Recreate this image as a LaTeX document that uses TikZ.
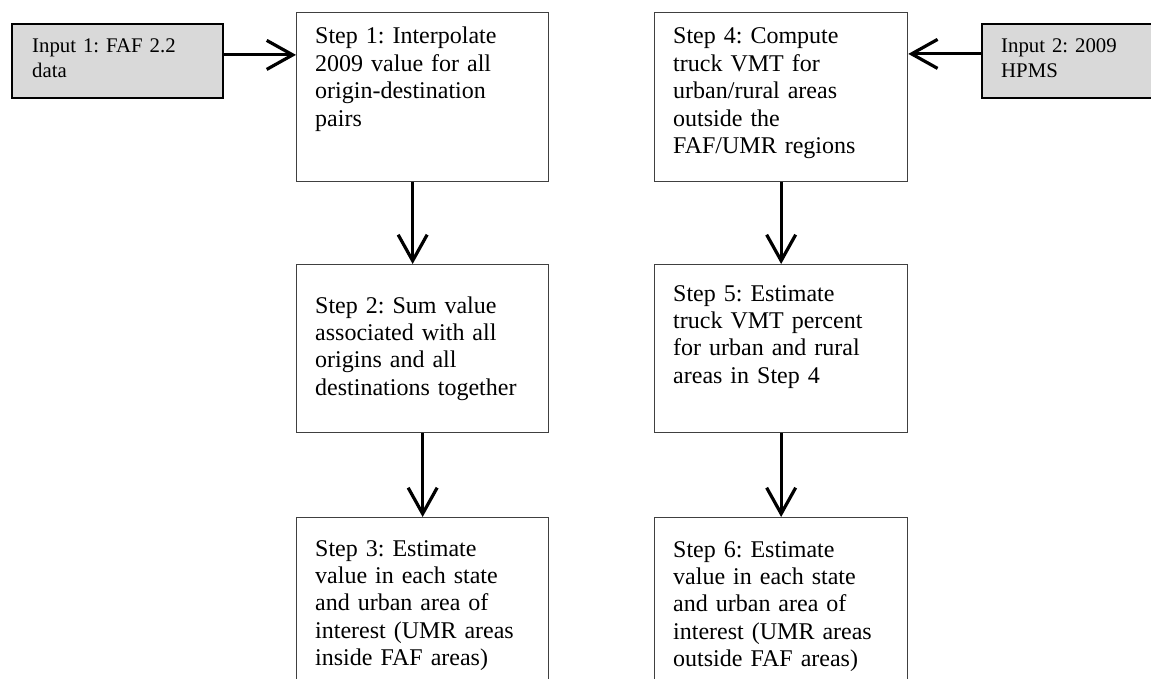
\documentclass[tikz,border=0pt]{standalone}
\usepackage{fontspec}
\setmainfont{Liberation Serif}
\usetikzlibrary{arrows.meta}
\definecolor{inputfill}{HTML}{D9D9D9}
\definecolor{boxline}{HTML}{404040}
\tikzset{
  stepbox/.style={draw=boxline, line width=1.3pt, fill=white, rectangle, inner sep=0pt, anchor=north west},
  inbox/.style={draw=black, line width=1.8pt, fill=inputfill, rectangle, inner sep=0pt, anchor=north west},
  steptext/.style={anchor=base west, inner sep=0pt, text width=245pt, align=left, font=\frenchspacing\fontsize{24}{27.4}\selectfont},
  intext/.style={anchor=base west, inner sep=0pt, text width=185pt, align=left, font=\frenchspacing\fontsize{20.8}{24.8}\selectfont},
  flow/.style={draw=black, line width=3.2pt, -{Straight Barb[length=26pt, width=29pt]}}
}
\begin{document}
\frenchspacing
\begin{tikzpicture}[x=1pt, y=-1pt]
\useasboundingbox (0,0) rectangle (1151,679);
\begin{scope}
\clip (0,0) rectangle (1151,679);
% input boxes
\node[inbox, minimum width=211pt, minimum height=74pt] (in1) at (11,23) {};
\node[inbox, minimum width=190pt, minimum height=74pt] (in2) at (981,23) {};
% step boxes
\node[stepbox, minimum width=252pt, minimum height=169pt] (s1) at (296,12) {};
\node[stepbox, minimum width=252pt, minimum height=168pt] (s2) at (296,264) {};
\node[stepbox, minimum width=252pt, minimum height=180pt] (s3) at (296,517) {};
\node[stepbox, minimum width=253pt, minimum height=169pt] (s4) at (654,12) {};
\node[stepbox, minimum width=253pt, minimum height=168pt] (s5) at (654,264) {};
\node[stepbox, minimum width=253pt, minimum height=180pt] (s6) at (654,517) {};
\end{scope}
% texts
\node[intext] (tin1) at (32,53) {Input 1: FAF 2.2\\data};
\node[intext, text width=140pt] (tin2) at (1001,53) {Input 2: 2009\\HPMS};
\node[steptext] (t1) at (315,44) {Step 1: Interpolate\\2009 value for all\\origin-destination\\pairs};
\node[steptext] (t2) at (315,313) {Step 2: Sum value\\associated with all\\origins and all\\destinations together};
\node[steptext] (t3) at (315,556) {Step 3: Estimate\\value in each state\\and urban area of\\interest (UMR areas\\inside FAF areas)};
\node[steptext] (t4) at (673,44) {Step 4: Compute\\truck VMT for\\urban/rural areas\\outside the\\FAF/UMR regions};
\node[steptext] (t5) at (673,301) {Step 5: Estimate\\truck VMT percent\\for urban and rural\\areas in Step 4};
\node[steptext] (t6) at (673,557) {Step 6: Estimate\\value in each state\\and urban area of\\interest (UMR areas\\outside FAF areas)};
% connectors
\draw[flow] ([yshift=6pt]in1.east) -- ([yshift=6pt]in1.east -| s1.west);
\draw[flow] ([yshift=7pt]in2.west) -- ([yshift=7pt]in2.west -| s4.east);
\draw[flow] ([xshift=-10pt]s1.south) -- ([xshift=-10pt]s2.north);
\draw[flow] (s2.south) -- (s3.north);
\draw[flow] (s4.south) -- (s5.north);
\draw[flow] (s5.south) -- (s6.north);
\end{tikzpicture}
\end{document}
